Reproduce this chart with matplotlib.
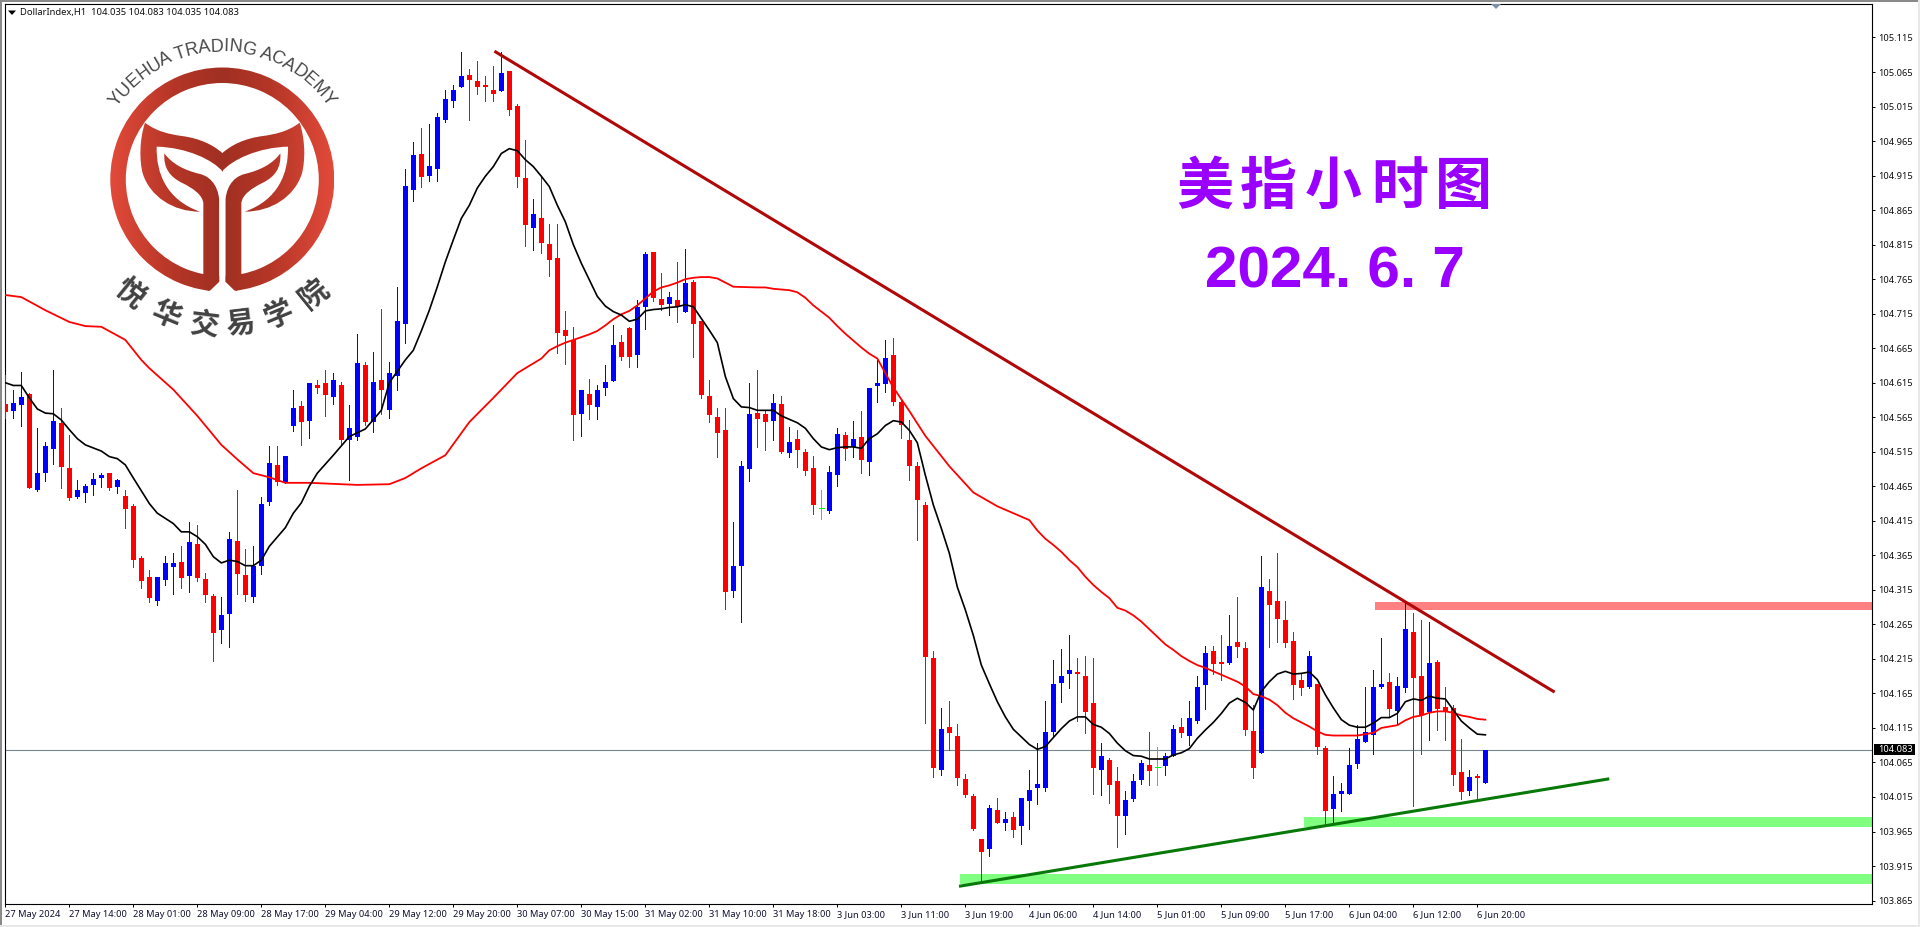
import numpy as np
import matplotlib
matplotlib.use('Agg')
import matplotlib.pyplot as plt
from matplotlib.colors import LinearSegmentedColormap
from matplotlib.font_manager import FontProperties
from matplotlib.patches import PathPatch, Polygon, Rectangle, Wedge
from matplotlib.path import Path
from matplotlib.textpath import TextToPath

plt.rcParams['font.family'] = ['Noto Sans', 'Noto Sans CJK SC', 'DejaVu Sans']

# candles, one hour each
opens = [
    104.584, 104.574, 104.583, 104.599, 104.460, 104.484, 104.519, 104.557, 104.492, 104.450,
    104.455, 104.467, 104.477, 104.484, 104.464, 104.451, 104.436, 104.361, 104.334, 104.299,
    104.329, 104.348, 104.355, 104.335, 104.381, 104.331, 104.306, 104.257, 104.280, 104.386,
    104.337, 104.305, 104.350, 104.442, 104.496, 104.470, 104.552, 104.581, 104.560, 104.612,
    104.615, 104.594, 104.612, 104.532, 104.536, 104.641, 104.558, 104.619, 104.575, 104.625,
    104.700, 104.894, 104.946, 104.914, 104.925, 104.996, 105.023, 105.043, 105.061, 105.052,
    105.046, 105.039, 105.038, 105.067, 105.016, 104.912, 104.839, 104.854, 104.816, 104.796,
    104.691, 104.677, 104.569, 104.598, 104.580, 104.607, 104.617, 104.674, 104.694, 104.655,
    104.724, 104.804, 104.736, 104.729, 104.735, 104.717, 104.761, 104.704, 104.596, 104.565,
    104.546, 104.314, 104.349, 104.490, 104.571, 104.569, 104.559, 104.584, 104.513, 104.533,
    104.514, 104.491, 104.433, 104.429, 104.482, 104.539, 104.522, 104.536, 104.500, 104.610,
    104.613, 104.655, 104.587, 104.532, 104.494, 104.438, 104.216, 104.054, 104.116, 104.103,
    104.041, 104.016, 103.954, 103.939, 103.996, 103.978, 103.986, 103.973, 104.009, 104.028,
    104.028, 104.109, 104.180, 104.193, 104.196, 104.190, 104.151, 104.054, 104.068, 104.038,
    103.988, 104.012, 104.039, 104.061, 104.058, 104.060, 104.074, 104.116, 104.104, 104.125,
    104.177, 104.226, 104.211, 104.209, 104.240, 104.231, 104.111, 104.079, 104.314, 104.299,
    104.272, 104.241, 104.185, 104.175, 104.179, 104.086, 103.998, 104.020, 104.020, 104.063,
    104.095, 104.105, 104.175, 104.182, 104.140, 104.173, 104.254, 104.190, 104.138, 104.211,
    104.146, 104.144, 104.051, 104.024, 104.046, 104.035]
closes = [
    104.573, 104.586, 104.594, 104.463, 104.484, 104.523, 104.560, 104.493, 104.448, 104.460,
    104.465, 104.476, 104.481, 104.463, 104.474, 104.432, 104.358, 104.328, 104.303, 104.334,
    104.354, 104.354, 104.332, 104.384, 104.332, 104.308, 104.252, 104.279, 104.389, 104.338,
    104.308, 104.350, 104.439, 104.499, 104.471, 104.509, 104.578, 104.558, 104.615, 104.607,
    104.597, 104.619, 104.532, 104.549, 104.644, 104.558, 104.616, 104.604, 104.629, 104.704,
    104.900, 104.945, 104.913, 104.929, 105.000, 105.026, 105.039, 105.059, 105.054, 105.043,
    105.043, 105.033, 105.064, 105.010, 104.913, 104.843, 104.859, 104.817, 104.793, 104.687,
    104.682, 104.568, 104.604, 104.582, 104.604, 104.616, 104.669, 104.652, 104.652, 104.724,
    104.801, 104.738, 104.727, 104.739, 104.726, 104.759, 104.700, 104.597, 104.568, 104.542,
    104.312, 104.349, 104.494, 104.569, 104.562, 104.558, 104.585, 104.514, 104.529, 104.517,
    104.487, 104.438, 104.433, 104.485, 104.540, 104.519, 104.533, 104.503, 104.608, 104.614,
    104.651, 104.587, 104.554, 104.494, 104.445, 104.218, 104.057, 104.113, 104.107, 104.042,
    104.018, 103.968, 103.936, 103.999, 103.977, 103.983, 103.967, 104.013, 104.025, 104.034,
    104.109, 104.178, 104.190, 104.199, 104.193, 104.138, 104.057, 104.074, 104.032, 103.987,
    104.010, 104.038, 104.064, 104.052, 104.058, 104.074, 104.113, 104.107, 104.129, 104.175,
    104.223, 104.207, 104.208, 104.234, 104.232, 104.112, 104.057, 104.319, 104.293, 104.273,
    104.238, 104.177, 104.173, 104.219, 104.088, 103.995, 104.020, 104.024, 104.062, 104.099,
    104.109, 104.175, 104.179, 104.143, 104.176, 104.259, 104.188, 104.134, 104.209, 104.143,
    104.140, 104.047, 104.022, 104.044, 104.043, 104.083]
highs = [
    104.626, 104.605, 104.630, 104.600, 104.549, 104.529, 104.634, 104.578, 104.539, 104.474,
    104.468, 104.484, 104.484, 104.484, 104.476, 104.460, 104.439, 104.364, 104.344, 104.334,
    104.364, 104.368, 104.379, 104.413, 104.409, 104.339, 104.309, 104.305, 104.399, 104.460,
    104.374, 104.379, 104.450, 104.523, 104.523, 104.509, 104.605, 104.589, 104.615, 104.619,
    104.633, 104.629, 104.616, 104.583, 104.686, 104.645, 104.660, 104.722, 104.645, 104.754,
    104.925, 104.964, 104.984, 104.990, 105.006, 105.039, 105.046, 105.094, 105.070, 105.081,
    105.059, 105.074, 105.094, 105.067, 105.019, 104.967, 104.881, 104.913, 104.845, 104.845,
    104.719, 104.695, 104.604, 104.620, 104.611, 104.640, 104.698, 104.684, 104.695, 104.735,
    104.804, 104.804, 104.774, 104.746, 104.790, 104.808, 104.764, 104.704, 104.619, 104.578,
    104.578, 104.413, 104.501, 104.614, 104.633, 104.575, 104.598, 104.596, 104.551, 104.546,
    104.519, 104.509, 104.459, 104.494, 104.549, 104.543, 104.559, 104.574, 104.608, 104.648,
    104.677, 104.680, 104.590, 104.561, 104.500, 104.442, 104.226, 104.144, 104.154, 104.120,
    104.048, 104.019, 103.954, 104.003, 104.013, 103.993, 103.993, 104.013, 104.054, 104.093,
    104.154, 104.213, 104.229, 104.249, 104.216, 104.219, 104.216, 104.093, 104.071, 104.058,
    104.023, 104.048, 104.068, 104.109, 104.088, 104.078, 104.119, 104.129, 104.154, 104.190,
    104.233, 104.233, 104.250, 104.279, 104.305, 104.240, 104.148, 104.364, 104.330, 104.369,
    104.299, 104.254, 104.193, 104.227, 104.179, 104.089, 104.046, 104.035, 104.086, 104.119,
    104.175, 104.199, 104.245, 104.195, 104.189, 104.298, 104.282, 104.272, 104.269, 104.214,
    104.175, 104.148, 104.099, 104.054, 104.048, 104.083]
lows = [
    104.564, 104.564, 104.552, 104.462, 104.458, 104.473, 104.497, 104.463, 104.445, 104.448,
    104.442, 104.452, 104.464, 104.460, 104.455, 104.405, 104.348, 104.318, 104.297, 104.293,
    104.322, 104.309, 104.318, 104.312, 104.328, 104.297, 104.212, 104.238, 104.232, 104.309,
    104.299, 104.297, 104.338, 104.438, 104.467, 104.470, 104.545, 104.525, 104.535, 104.600,
    104.567, 104.584, 104.525, 104.474, 104.532, 104.554, 104.544, 104.570, 104.564, 104.604,
    104.672, 104.878, 104.898, 104.907, 104.907, 104.993, 105.014, 105.043, 104.996, 105.033,
    105.023, 105.023, 105.038, 105.003, 104.898, 104.813, 104.807, 104.803, 104.770, 104.658,
    104.642, 104.532, 104.538, 104.562, 104.562, 104.597, 104.617, 104.648, 104.638, 104.638,
    104.693, 104.733, 104.720, 104.713, 104.703, 104.717, 104.652, 104.593, 104.558, 104.507,
    104.287, 104.304, 104.269, 104.472, 104.522, 104.517, 104.532, 104.513, 104.507, 104.493,
    104.482, 104.425, 104.417, 104.427, 104.466, 104.503, 104.507, 104.484, 104.482, 104.587,
    104.602, 104.583, 104.535, 104.474, 104.387, 104.122, 104.044, 104.047, 104.083, 104.032,
    104.015, 103.967, 103.893, 103.929, 103.977, 103.967, 103.957, 103.947, 103.968, 104.005,
    104.023, 104.102, 104.152, 104.173, 104.125, 104.107, 104.019, 104.018, 104.007, 103.942,
    103.962, 104.009, 104.034, 104.032, 104.032, 104.047, 104.074, 104.102, 104.091, 104.122,
    104.142, 104.193, 104.185, 104.208, 104.218, 104.105, 104.043, 104.079, 104.232, 104.240,
    104.232, 104.157, 104.163, 104.173, 104.077, 103.975, 103.976, 103.995, 104.020, 104.057,
    104.095, 104.077, 104.173, 104.131, 104.121, 104.167, 104.002, 104.077, 104.098, 104.112,
    104.098, 104.032, 104.012, 104.018, 104.012, 104.035]

# short average (black)
black_x = list(range(0, 11)) + [12, 13, 14, 15, 16, 18, 19, 21, 22, 23, 24, 25, 26, 27, 28, 29, 30, 31, 32, 33,
                                35, 36, 37, 38, 39, 41, 43, 45, 47, 48, 50] + list(range(51, 186))
black_y = [
    104.615, 104.611, 104.611, 104.593, 104.577, 104.571, 104.570, 104.561, 104.547, 104.534, 104.525,
    104.516, 104.508, 104.505, 104.496, 104.477, 104.440, 104.426, 104.411, 104.399, 104.399, 104.392,
    104.381, 104.363, 104.354, 104.358, 104.356, 104.350, 104.350, 104.358, 104.378,
    104.405, 104.426, 104.441, 104.465, 104.484, 104.510, 104.537, 104.548, 104.575, 104.615, 104.648,
    104.662, 104.690, 104.720, 104.754, 104.790, 104.822, 104.853, 104.872, 104.897, 104.914,
    104.928, 104.947, 104.954, 104.951, 104.938, 104.928, 104.914, 104.899, 104.872, 104.848,
    104.815, 104.788, 104.764, 104.740, 104.726, 104.718, 104.713, 104.704, 104.707, 104.719,
    104.721, 104.722, 104.724, 104.725, 104.728, 104.725, 104.708, 104.691, 104.673, 104.624,
    104.592, 104.580, 104.579, 104.575, 104.575, 104.575, 104.567, 104.562, 104.557, 104.549,
    104.534, 104.522, 104.518, 104.521, 104.522, 104.522, 104.520, 104.534, 104.541, 104.553,
    104.560, 104.558, 104.546, 104.528, 104.481, 104.438, 104.404, 104.368, 104.319, 104.286,
    104.249, 104.206, 104.179, 104.153, 104.131, 104.113, 104.102, 104.091, 104.084, 104.088,
    104.101, 104.114, 104.125, 104.131, 104.131, 104.120, 104.116, 104.107, 104.093, 104.082,
    104.075, 104.074, 104.070, 104.070, 104.070, 104.076, 104.079, 104.085, 104.100, 104.112,
    104.123, 104.136, 104.151, 104.158, 104.152, 104.141, 104.168, 104.182, 104.193, 104.197,
    104.193, 104.194, 104.196, 104.185, 104.163, 104.144, 104.127, 104.119, 104.116, 104.116,
    104.122, 104.130, 104.130, 104.136, 104.153, 104.157, 104.155, 104.161, 104.158, 104.157,
    104.141, 104.125, 104.115, 104.106, 104.105]

# long average (red)
red_x = [0, 2, 5, 8, 10, 12, 15, 17, 18, 21, 24, 27, 29, 31, 33, 35, 38, 44, 48, 50, 52, 55, 58, 61, 64,
         67, 68, 69, 70, 71, 72, 73, 74, 75, 76, 77, 78, 79, 80, 81, 82, 83, 84, 85, 86, 87, 88, 89, 90, 91,
         94, 95, 96, 98, 99, 100, 101, 102, 103, 104, 105, 106, 107, 108, 109, 111, 113, 115, 118, 121, 124,
         128, 129, 130, 131, 132, 133, 134, 135, 136, 137, 138, 139, 140, 141, 142, 143, 144, 145, 146, 147,
         148, 149, 150, 151, 152, 153, 154, 155, 156, 157, 158, 159, 160, 161, 162, 163, 164, 165, 166, 169,
         170, 171, 172, 173, 174, 175, 176, 177, 178, 179, 180, 181, 182, 183, 184, 185]
red_y = [
    104.742, 104.739, 104.720, 104.703, 104.697, 104.696, 104.677, 104.648, 104.636, 104.605, 104.567,
    104.525, 104.504, 104.484, 104.478, 104.470, 104.470, 104.467, 104.468, 104.477, 104.491, 104.510,
    104.558, 104.593, 104.629,
    104.650, 104.662, 104.668, 104.673, 104.677, 104.681, 104.685, 104.690, 104.698, 104.707, 104.714,
    104.719, 104.727, 104.737, 104.747, 104.753, 104.756, 104.760, 104.765, 104.767, 104.768, 104.768,
    104.766, 104.760, 104.754,
    104.753, 104.753, 104.751, 104.749, 104.746, 104.738, 104.727, 104.718, 104.709, 104.697, 104.686,
    104.676, 104.666, 104.657, 104.650, 104.608, 104.574, 104.538, 104.494, 104.456, 104.436,
    104.416, 104.401, 104.389, 104.380, 104.370, 104.358, 104.348, 104.334, 104.322, 104.312, 104.303,
    104.289, 104.285, 104.278, 104.269, 104.258, 104.247, 104.236, 104.228, 104.219,
    104.212, 104.206, 104.202, 104.197, 104.192, 104.187, 104.182, 104.175, 104.164, 104.161, 104.156,
    104.148, 104.137, 104.129, 104.123, 104.117, 104.110, 104.105, 104.104, 104.104,
    104.106, 104.108, 104.115, 104.117, 104.119, 104.126, 104.131, 104.133, 104.137, 104.139, 104.139,
    104.137, 104.133, 104.131, 104.128, 104.127]

# trend lines and zones drawn by hand on the chart
down_line_x = [61.3, 193.5]
down_line_y = [105.094, 104.168]
up_line_x = [119.4, 200.3]
up_line_y = [103.886, 104.041]
pink_zone = [171.2, 104.286, 104.297]
green_zone_1 = [162.3, 103.972, 103.986]
green_zone_2 = [119.3, 103.889, 103.903]
last_price = 104.083

y_ticks = [103.865, 103.915, 103.965, 104.015, 104.065, 104.115, 104.165, 104.215, 104.265, 104.315, 104.365,
           104.415, 104.465, 104.515, 104.565, 104.615, 104.665, 104.715, 104.765, 104.815, 104.865, 104.915,
           104.965, 105.015, 105.065, 105.115]
x_labels = ['27 May 2024', '27 May 14:00', '28 May 01:00', '28 May 09:00', '28 May 17:00', '29 May 04:00',
            '29 May 12:00', '29 May 20:00', '30 May 07:00', '30 May 15:00', '31 May 02:00', '31 May 10:00',
            '31 May 18:00', '3 Jun 03:00', '3 Jun 11:00', '3 Jun 19:00', '4 Jun 06:00', '4 Jun 14:00',
            '5 Jun 01:00', '5 Jun 09:00', '5 Jun 17:00', '6 Jun 04:00', '6 Jun 12:00', '6 Jun 20:00']

fig = plt.figure(figsize=(19.2, 9.27), dpi=100, facecolor='white')
ax = fig.add_axes([5 / 1920, 23 / 927, 1867 / 1920, 900 / 927])
ax.set_xlim(-0.04, 233.33)
ax.set_ylim(103.860, 105.1635)

# zones first, then candles, then averages and trend lines
x_right = 233.33
for zone, col in [(pink_zone, '#ff8080'), (green_zone_1, '#80ff80'), (green_zone_2, '#80ff80')]:
    ax.add_patch(Rectangle((zone[0], zone[1]), x_right - zone[0], zone[2] - zone[1], fc=col, ec='none', zorder=1))
ax.axhline(last_price, color='#7a8590', lw=0.8, zorder=2)

o = np.array(opens)
c = np.array(closes)
h = np.array(highs)
l = np.array(lows)
xs = np.arange(len(o))
colors = np.where(c > o, '#0000ff', np.where(c < o, '#ff0000', '#00ff00'))
ax.vlines(xs, l, h, colors=colors, lw=0.72, zorder=3, antialiased=False)
flat = c == o
ax.bar(xs[~flat], np.abs(c - o)[~flat], bottom=np.minimum(o, c)[~flat], width=0.625, color=colors[~flat],
       linewidth=0, zorder=3, antialiased=False)
ax.hlines(o[flat], xs[flat] - 0.31, xs[flat] + 0.31, colors='#00ff00', lw=0.72, zorder=3, antialiased=False)

ax.plot(red_x, red_y, color='#ff0000', lw=1.3, zorder=4)
ax.plot(black_x, black_y, color='#000000', lw=1.2, zorder=5)
ax.plot(down_line_x, down_line_y, color='#b00808', lw=2.2, zorder=6)
ax.plot(up_line_x, up_line_y, color='#087808', lw=2.2, zorder=6)

# axes dressing, MT4 style
ax.yaxis.tick_right()
ax.set_yticks(y_ticks)
ax.set_yticklabels(['%.3f' % v for v in y_ticks], fontsize=6.7, color='#101010')
ax.set_xticks(np.arange(len(x_labels)) * 8)
ax.set_xticklabels(x_labels, fontsize=6.7, color='#101030', ha='left')
ax.tick_params(axis='both', length=2.5, width=0.72, color='black', pad=2)
for s in ax.spines.values():
    s.set_linewidth(0.8)
    s.set_color('black')

# overlay in picture pixels for logo, titles and the window chrome
ov = fig.add_axes([0, 0, 1, 1], zorder=5)
ov.patch.set_alpha(0)
ov.axis('off')

grad = np.linspace(0, 1, 256).reshape(1, -1)
logo_cmap = LinearSegmentedColormap.from_list('logo', [(0, '#e24a3a'), (0.28, '#b53627'), (0.5, '#a03022'),
                                                       (0.72, '#b53627'), (1, '#e24a3a')])
cx = 222.3
cy = 179.5


def fill_logo(patch):
    ov.add_patch(patch)
    im = ov.imshow(grad, extent=(cx - 112, cx + 112, cy + 112, cy - 112), aspect='auto', cmap=logo_cmap, zorder=2)
    im.set_clip_path(patch)


def logo_path(pts, codes, mirror=False):
    v = np.array(pts, dtype=float)
    if mirror:
        v[:, 0] = 1334 - v[:, 0]
    return Path(v / 3, codes)


M, L, C, Z = Path.MOVETO, Path.LINETO, Path.CURVE4, Path.CLOSEPOLY
horn_pts = [(435, 368), (470, 395), (510, 403), (545, 408), (600, 415), (640, 435), (668, 460), (668, 515),
            (640, 480), (560, 442), (470, 440), (468, 520), (500, 600), (600, 635), (520, 635), (450, 590),
            (428, 520), (418, 480), (418, 420), (435, 368), (435, 368)]
horn_codes = [M, C, C, C, C, C, C, L, C, C, C, C, C, C, C, C, C, C, C, C, Z]
leaf_pts = [(493, 460), (515, 490), (550, 510), (600, 522), (640, 532), (658, 570), (658, 610), (658, 840),
            (625, 873), (610, 860), (610, 610), (608, 585), (580, 565), (545, 548), (510, 530), (490, 505),
            (493, 460), (493, 460)]
leaf_codes = [M, C, C, C, C, C, C, L, L, L, L, C, C, C, C, C, C, Z]

fill_logo(Wedge((cx, cy), 112, 0, 360, width=15.5, fc='none', ec='none'))
for mir in [False, True]:
    fill_logo(PathPatch(logo_path(horn_pts, horn_codes, mir), fc='none', ec='none'))
    fill_logo(PathPatch(logo_path(leaf_pts, leaf_codes, mir), fc='none', ec='none'))
gap = np.array([(658, 600), (676, 600), (676, 845), (712, 880), (622, 880), (658, 845)]) / 3
ov.add_patch(Polygon(gap, fc='white', ec='none', zorder=3))

# curved english name over the ring
name = 'YUEHUA TRADING ACADEMY'
fp = FontProperties(family='Liberation Sans', size=13)
t2p = TextToPath()
wid = lambda s: t2p.get_text_width_height_descent(s, fp, False)[0]
total = wid(name)
for n, ch in enumerate(name):
    mid = wid(name[:n]) + wid(ch) / 2
    ang = np.radians(-55.5 + 111 * mid / total)
    ov.text(cx + 128 * np.sin(ang), cy - 128 * np.cos(ang), ch, fontproperties=fp, color='#484848',
            rotation=-np.degrees(ang), rotation_mode='anchor', ha='center', va='baseline')

# curved chinese name under the ring
for ch, deg in zip('悦华交易学院', [-39, -22.5, -7, 7, 22.5, 39]):
    ang = np.radians(deg)
    ov.text(cx + 146 * np.sin(ang), cy + 146 * np.cos(ang), ch, family='Noto Sans CJK SC', weight='black',
            fontsize=21, color='#424242', rotation=deg, rotation_mode='anchor', ha='center', va='center')

# purple titles
for ch, xc in zip('美指小时图', [1205, 1268, 1333, 1400, 1463]):
    ov.text(xc, 187, ch, family='Noto Sans CJK SC', weight='bold', fontsize=41, color='#9900ff',
            ha='center', va='center')
ov.text(1335, 273, '2024. 6. 7', family='Liberation Sans', weight='bold', fontsize=42, color='#9900ff',
        ha='center', va='center')

# header line and last price box
ov.add_patch(Polygon([(8, 10.5), (16, 10.5), (12, 15)], fc='black', ec='none'))
ov.text(20, 12.5, 'DollarIndex,H1  104.035 104.083 104.035 104.083', fontsize=6.8, color='#101010',
        ha='left', va='center')
ov.add_patch(Rectangle((1874, 744), 41, 11, fc='black', ec='none'))
ov.text(1878, 749.7, '104.083', fontsize=6.7, color='white', ha='left', va='center')
ov.add_patch(Polygon([(1491, 4), (1501, 4), (1496, 9)], fc='#7f8fa6', ec='none'))

# window edges
ov.add_patch(Rectangle((0, 0), 1920, 1.7, fc='#8a8a8a', ec='none'))
ov.add_patch(Rectangle((0, 0), 1.7, 927, fc='#8a8a8a', ec='none'))
ov.add_patch(Rectangle((1918, 0), 2, 927, fc='#e8e8e8', ec='none'))
ov.add_patch(Rectangle((0, 925), 1920, 2, fc='#e8e8e8', ec='none'))

ov.set_xlim(0, 1920)
ov.set_ylim(927, 0)

fig.savefig('out.png', dpi=100)
